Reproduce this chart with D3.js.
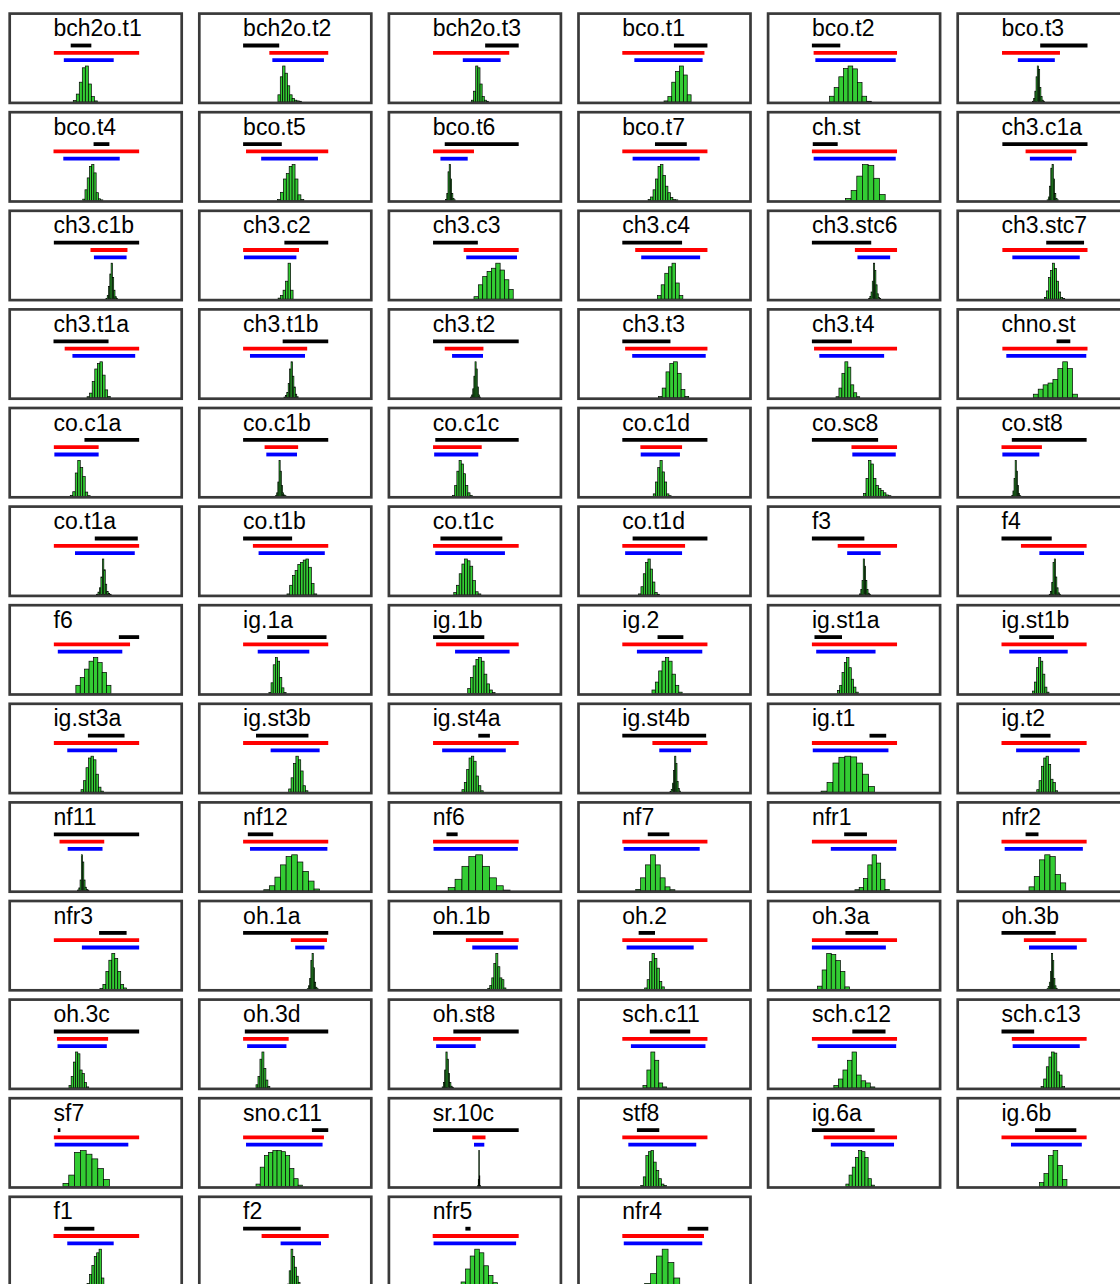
<!DOCTYPE html>
<html>
<head>
<meta charset="utf-8">
<script src="https://cdn.jsdelivr.net/npm/d3@7"></script>
<style>
  html, body { margin: 0; padding: 0; background: #fff; }
  svg { display: block; }
</style>
</head>
<body>
<script>
const panelNames = [
  "bch2o.t1","bch2o.t2","bch2o.t3","bco.t1","bco.t2","bco.t3",
  "bco.t4","bco.t5","bco.t6","bco.t7","ch.st","ch3.c1a",
  "ch3.c1b","ch3.c2","ch3.c3","ch3.c4","ch3.stc6","ch3.stc7",
  "ch3.t1a","ch3.t1b","ch3.t2","ch3.t3","ch3.t4","chno.st",
  "co.c1a","co.c1b","co.c1c","co.c1d","co.sc8","co.st8",
  "co.t1a","co.t1b","co.t1c","co.t1d","f3","f4",
  "f6","ig.1a","ig.1b","ig.2","ig.st1a","ig.st1b",
  "ig.st3a","ig.st3b","ig.st4a","ig.st4b","ig.t1","ig.t2",
  "nf11","nf12","nf6","nf7","nfr1","nfr2",
  "nfr3","oh.1a","oh.1b","oh.2","oh.3a","oh.3b",
  "oh.3c","oh.3d","oh.st8","sch.c11","sch.c12","sch.c13",
  "sf7","sno.c11","sr.10c","stf8","ig.6a","ig.6b",
  "f1","f2","nfr5","nfr4"
];

const blackBars = [
  [20,44],[0,42],[61,100],[60,99],[0,33],[45,100],
  [46.6,65],[0,45],[14,100],[38,75],[1,30],[1,100],
  [0.4,99.6],[48,99],[0.4,52.5],[0,69.5],[0,69],[52,96],
  [0,64],[46,99],[0.4,100],[0,56],[0,46.5],[64,80],
  [36,99.6],[0,99],[3,100],[0,99],[0,77],[12,99],
  [48,98],[0,57],[9,81],[12,99],[0,61],[0,58.4],
  [76,99.6],[28,97],[0.4,60],[41,71],[3,35],[20.6,61],
  [40,82.6],[15,76],[53,66.5],[0,97.5],[67,86.4],[22,57],
  [0.4,99.6],[5.5,35],[16,29],[29.6,54.7],[37.5,64],[28,43],
  [53,85],[0,99],[0.4,82],[19,38],[39,77],[0,63],
  [0.4,99.6],[2,99],[24,100],[32,79],[47,85.6],[0,38],
  [5,8],[80,99],[0.4,100],[17,43],[0,73],[39,87],
  [12.5,47.5],[0,67],[38,44],[76,100]
];

const redBars = [
  [0.4,99.6],[30.5,99],[0.4,89],[0,95.5],[2,99],[0.6,68],
  [0,99.6],[3.4,99],[0.4,48],[0,99],[0,99],[28,87],
  [43,86],[0,65],[36,100],[15,99],[50,99],[1,100],
  [13,99.6],[0,74.5],[14,59],[3.3,99],[2.5,99],[1,100],
  [0.4,52.5],[25,64],[0.4,57],[21,69.5],[46,99],[0,47],
  [0.4,99.6],[11.4,99],[0.4,100],[0,73],[30,99],[22.6,99],
  [0.4,89],[0,99],[4,100],[0,99],[0,99],[0,99],
  [0.4,99.6],[0,99],[0.4,100],[35,99],[0,99],[0,99],
  [7,59],[0,99],[0.4,100],[0,99],[0,99],[0,99],
  [0.4,99.6],[55.5,97.5],[38.6,100],[0,99],[0,99],[26,99],
  [4,63.5],[0,53],[0.4,56],[0,99],[0,99],[12,99],
  [0.4,99.6],[0,94],[46,61.4],[0,99],[13.6,99],[0,99],
  [0,99.6],[21.5,99.6],[0,100],[0,95]
];

const blueBars = [
  [12,70],[34,94],[35,79],[14,93.4],[4,97.5],[19,62],
  [11.4,77],[21,87],[9,40.7],[12,90],[2,97.5],[33,82],
  [47,85],[1,62],[39,98],[22,90.5],[53,91],[12.6,91],
  [22,95],[8,72],[22.5,58.5],[11.5,97],[8.6,84],[5.6,98.6],
  [1,52.5],[27,62.7],[1.7,53],[21.4,67],[47,97.5],[1,44],
  [25,94.5],[18,95],[3,84],[3.3,69.5],[41,80],[44,96],
  [5,80],[17,77],[26,89.4],[17,93],[5,74],[9,77],
  [16,74],[32,89],[11,85],[43,80],[1,89],[17,91],
  [16.5,57],[8,98],[1,99],[1.6,90],[22,98],[3.7,94.6],
  [33,99.6],[60.6,94.5],[46,99],[5,83],[0,86],[32,87.6],
  [4.7,62],[4.7,50.4],[4,50],[10,96.7],[6.6,98],[13,91],
  [1.3,87],[3.4,92.4],[48,60],[7,86],[22,95.5],[11,93.4],
  [16,70],[43.6,90.6],[1,97],[1.7,93]
];

const histStarts = [
  23,40.5,45,48.5,20.5,36,
  34,40,15,30,39,53,
  61,40.7,48,41,66,50,
  39,47.5,44,42,28,37,
  19.5,37.7,23,36,60,12,
  50,51,24.5,19,55.5,55.5,
  26,30,40.7,34.5,29.6,36,
  32,53,34,55.5,10.7,41,
  28,24,18,15.6,50,32,
  54,74.6,64,26,6.6,53,
  18,15,11,24,25.5,46,
  11,15,51.8,21.4,39.5,44,
  39,51.5,33,26
];

const histBinWidths = [
  3.5,2.75,2.5,4.5,5.4,1.4,
  2.6,3.4,1.4,2.88,6.6,1.45,
  1.5,2.9,5.07,4.2,1.4,2.35,
  3,1.65,1.3,4.4,3.45,5.7,
  2.9,1.35,2.55,2.6,2.9,1.3,
  1.7,3.15,3.15,2.7,1.4,1.47,
  5.1,2.5,3.18,3.9,2.7,2.4,
  2.9,2.8,2.75,1.35,6.9,2.7,
  1.45,6.5,8,5.7,5,6.1,
  3.45,1.4,2.35,2.85,5.3,1.3,
  2.55,2.3,1.45,4.6,5.3,3.05,
  6.75,4.9,0.6,3,3.7,5.35,
  2.8,2.1,5.3,6.8
];

const histCounts = [
  [0.4,2.2,5.5,9.5,10,5,1.5,0.3],
  [2,7,10,8,4.5,2,1,0.5,0.3,0.2],
  [0.5,3,10,9.5,5,1.5,0.5,0.2],
  [0.3,1.5,5.5,8.5,10,7.5,2],
  [1.6,4,7,9.3,10,9.2,5.4,1.6,0.2],
  [0.2,1,3,7,10,9,4,1.5,0.5,0.2],
  [0.4,3,6.3,9.5,10,7.7,2.2,0.5,0.2],
  [0.3,2.3,6,7.5,9.5,10,6,1.6,0.3],
  [0.3,2,8,10,6,2,0.6,0.2],
  [0.3,1,3,6,9.5,10,7,4,2.2,0.9,0.3,0.2],
  [0.6,2.8,6.8,10,9.8,6.2,1.7],
  [0.2,1,4,9,10,6,2,0.6,0.2],
  [0.2,1,3.5,7,10,6,2.5,0.7,0.2],
  [0.3,1,2.5,5,10,2.5],
  [0.7,4,6.3,7.7,8.6,10,8.1,5.4,2.7],
  [1,4,7.2,9,10,4.5,1],
  [0.2,0.8,2,5,10,8,4,1.5,0.5,0.2],
  [0.5,2.3,6,8,10,8.5,5,2,0.5,0.2],
  [0.3,1.3,4.5,8,9.5,10,6.3,2.2,0.4],
  [0.2,0.6,1.5,4,8,10,6,3,1,0.3],
  [0.2,0.8,2.5,6,10,8,3,0.8,0.2],
  [0.4,2.7,7.2,9.5,10,6.8,2.3,0.4],
  [0.3,2.7,6.8,10,8.5,3.6,1.4,0.3],
  [1,2.4,3.6,4.1,5.1,8.1,10,8.1,1],
  [0.3,1.3,6.5,10,8,5.5,1.2,0.2],
  [0.2,1,4,10,7,3,1,0.4,0.2],
  [0.3,3,7,10,9,6.3,3,1,0.3],
  [0.7,4,8,10,6.8,4,0.7,0.2],
  [0.8,5,10,9,5,3,2.2,1.6,1,0.4,0.2],
  [0.3,1.5,5,10,7,3,0.8,0.2],
  [0.2,0.8,2,5,10,7,3,1,0.4,0.2],
  [0.3,2.7,5.4,6.8,8.5,9,9.7,10,7.7,3.2,0.3],
  [0.7,2.7,5.9,8.6,10,9.5,8,4,0.9,0.3],
  [0.3,2.3,5.9,9,10,7.2,3.6,0.7,0.2],
  [0.3,1.5,4,10,8,4,1.5,0.5,0.2],
  [0.2,1,3.5,9,10,5,2,0.6,0.2],
  [2.3,4.5,6.8,9,10,8.6,5.9,2.3],
  [0.3,3,8,10,9,4.5,1.6,0.3],
  [1.4,4.5,7.7,9.5,10,9,5.4,2.7,1,0.3],
  [1,3.2,6.3,9,10,9,5.4,2.3,0.4],
  [0.9,2.3,5.9,8.6,10,7.2,4,1.8,0.4],
  [0.7,3.2,7.2,10,9,5.4,1.8,0.4],
  [0.7,3.2,6.8,9.5,10,9,5,1.4,0.3],
  [0.9,4,8,10,9,5.9,1.8,0.4],
  [0.7,2.7,6.3,9.5,10,8.6,4.5,1.8,0.4],
  [0.2,0.8,2.5,6,10,8,3,1,0.3],
  [0.3,2.7,8.1,9.7,10,9.8,8.1,5,1.6],
  [0.7,3.2,7.2,9.5,10,7.7,3.6,2.7,0.4],
  [0.2,0.8,3,10,8,3,1,0.4,0.2],
  [0.3,1.4,3.8,7.2,9.5,10,8,5.4,2.7,0.5],
  [0.9,3.2,6.8,9.5,10,6.8,3.6,1.4,0.2],
  [0.4,3.6,7.2,10,7.2,3.6,1.1,0.3],
  [0.3,0.9,3.4,7.2,10,7.7,3.2,0.4],
  [1.1,4,8.6,10,9.5,4.5,2.2],
  [0.3,1.4,5,8.1,10,8.6,5,1.4,0.4],
  [0.2,1,3,8,10,6,2,0.6,0.2],
  [0.3,1.1,3.2,7.2,10,6.3,3.2,2.7,0.4],
  [0.4,2.7,7.7,10,8.6,5.9,2.2,0.7],
  [0.9,5.4,10,9.7,8,5,0.7],
  [0.2,0.8,2,5,10,8,3,1,0.3],
  [0.7,3.2,7.2,10,9.5,5,4,1.5,0.3],
  [0.9,3.2,8,10,5.4,2.2,0.4],
  [0.3,1.5,5,10,8,4,1.5,0.5,0.2],
  [0.7,5,10,7.7,1.4,0.3],
  [0.7,2.5,5,7.7,10,3.6,2,1.4,0.3],
  [0.4,2.5,5.9,8.6,10,9.7,4.5,3.6,0.4],
  [0.9,3.2,9.5,10,9,7.7,5,2],
  [0.7,5.4,8.6,9.5,10,10,9.7,8.6,5,2.2,0.4],
  [0.05,0.3,2,10,3,0.3,0.05],
  [0.3,2.7,8.6,9.7,10,6.8,4.5,2.2,0.7,0.3],
  [0.7,3.2,5.4,8.1,10,9.7,8.1,2.2,0.4],
  [1.1,3.6,8.6,10,5.9,2],
  [0.5,3,5.5,8,9,10,2],
  [0.3,4,10,8,5,2.5,0.8,0.2],
  [0.9,4.5,8.1,10,9,5.4,2.7,0.7],
  [0.5,3.2,8.1,10,6.3,2]
];

// ---- layout ----
const W = 1120, H = 1284;
const nCols = 6;
const colStep = 189.6, rowStep = 98.6;
const left0 = 9.7, top0 = 13.6;
const panelW = 172, panelH = 89.3;

const svg = d3.select("body").append("svg")
  .attr("width", W).attr("height", H)
  .attr("viewBox", `0 0 ${W} ${H}`);

const x = d3.scaleLinear().domain([0, 100]).range([43.8, 129.8]);
const yBlack = 31.9, yRed = 39.2, yBlue = 46.5;
const barW = 3.8;
const histBase = 88.4, histTop = 52.4;

const panels = panelNames.map((name, i) => ({
  name,
  black: blackBars[i], red: redBars[i], blue: blueBars[i],
  start: histStarts[i], bw: histBinWidths[i], counts: histCounts[i],
  col: i % nCols, row: Math.floor(i / nCols)
}));

const g = svg.selectAll("g.panel").data(panels).join("g")
  .attr("class", "panel")
  .attr("transform", d => `translate(${left0 + d.col * colStep},${top0 + d.row * rowStep})`);

// histograms
g.each(function(d) {
  const y = d3.scaleLinear().domain([0, d3.max(d.counts)]).range([histBase, histTop]);
  const bins = d.counts.map((c, k) => ({x0: d.start + k * d.bw, x1: d.start + (k + 1) * d.bw, c}));
  d3.select(this).selectAll("rect.bin").data(bins).join("rect")
    .attr("class", "bin")
    .attr("x", b => x(b.x0))
    .attr("width", b => x(b.x1) - x(b.x0))
    .attr("y", b => y(b.c))
    .attr("height", b => y(0) - y(b.c))
    .attr("fill", "#33cc33")
    .attr("stroke", "#000")
    .attr("stroke-width", 0.7);
});

// range bars
const bars = [
  {key: "black", yy: yBlack, color: "#000000"},
  {key: "red", yy: yRed, color: "#ff0000"},
  {key: "blue", yy: yBlue, color: "#0000ff"}
];
bars.forEach(bs => {
  g.append("line")
    .attr("x1", d => x(d[bs.key][0]))
    .attr("x2", d => x(d[bs.key][1]))
    .attr("y1", bs.yy).attr("y2", bs.yy)
    .attr("stroke", bs.color)
    .attr("stroke-width", barW)
    .attr("stroke-linecap", "butt");
});

// titles
g.append("text")
  .attr("x", x(0))
  .attr("y", 22.7)
  .attr("font-family", "'Liberation Sans', Arial, Helvetica, sans-serif")
  .attr("font-size", 23)
  .attr("fill", "#000")
  .text(d => d.name);

// frames
g.append("rect")
  .attr("x", 0).attr("y", 0)
  .attr("width", panelW).attr("height", panelH)
  .attr("fill", "none")
  .attr("stroke", "#3a3a3a")
  .attr("stroke-width", 2.7);
</script>
</body>
</html>
